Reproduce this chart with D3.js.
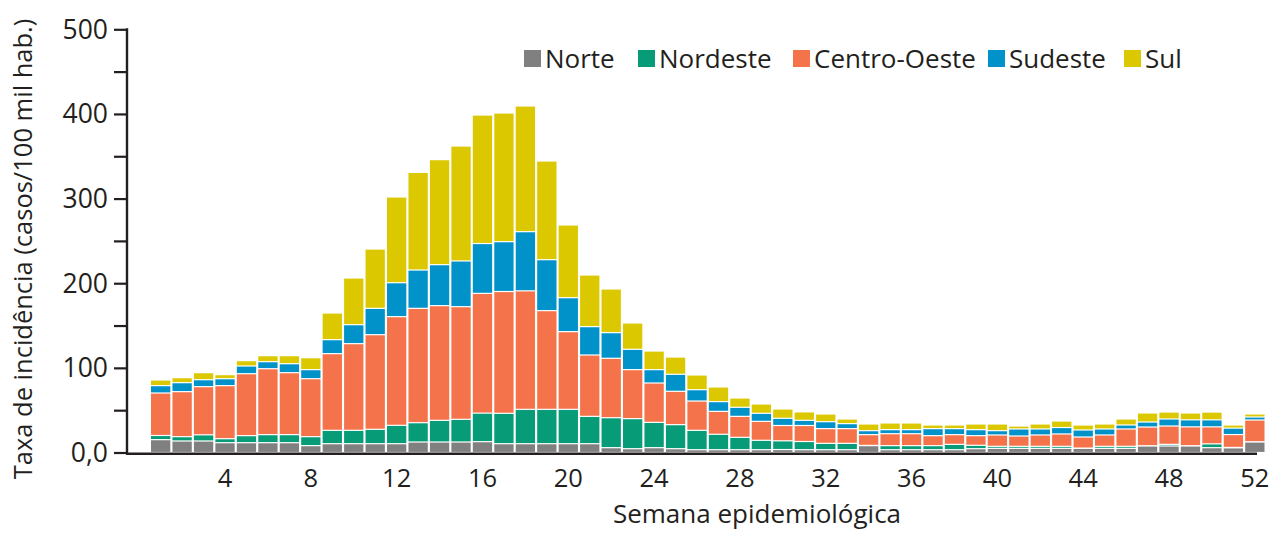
<!DOCTYPE html>
<html>
<head>
<meta charset="utf-8">
<script src="https://cdn.jsdelivr.net/npm/d3@7"></script>
<style>
  body { margin: 0; background: #fff; }
  text { font-family: "Open Sans", "Noto Sans", sans-serif; fill: #231f20; }
</style>
</head>
<body>
<div id="chart"></div>
<script>
'use strict';

// weekly incidence by region (cases / 100k inhabitants)
var weeks = d3.range(1, 53);
var regions = ['Norte', 'Nordeste', 'Centro-Oeste', 'Sudeste', 'Sul'];

var norte = [15.2, 13.6, 13.6, 11.6, 11.6, 11.6, 11.6, 8.1, 10.4, 10.4,
             10.4, 10.4, 12.4, 12.4, 12.4, 12.8, 10.4, 10.4, 10.4, 10.4,
             10.4, 5.7, 4.5, 5.7, 4.5, 3.3, 3.3, 3.3, 3.3, 3.5,
             3.3, 3.3, 3.3, 8.1, 3.3, 3.3, 3.3, 3.3, 4.5, 4.9,
             4.9, 4.9, 4.9, 4.9, 4.9, 4.9, 7.7, 7.7, 7.7, 5.7,
             5.5, 12.4];
var nordeste = [4.9, 5.1, 7.3, 4.7, 8.3, 9.5, 9.5, 10.6, 15.8, 15.8,
                17.0, 21.7, 22.8, 25.6, 26.8, 33.7, 35.9, 40.6, 40.6, 40.6,
                32.3, 35.4, 35.5, 29.9, 28.4, 22.9, 18.2, 14.6, 11.1, 10.3,
                9.7, 7.5, 7.5, 0.3, 4.8, 4.8, 4.8, 6.3, 4.0, 2.4,
                2.4, 2.4, 2.4, 0.3, 2.4, 2.4, 0.3, 1.9, 0.3, 4.5,
                0.5, 0.3];
var centroOeste = [50.2, 53.2, 56.9, 62.7, 73.2, 77.9, 73.2, 68.5, 90.6, 102.4,
                   111.8, 128.4, 135.1, 135.5, 133.1, 141.5, 143.9, 140.0, 116.6, 91.8,
                   72.5, 70.2, 57.9, 46.5, 39.4, 34.6, 27.1, 24.8, 22.4, 18.1,
                   18.9, 17.4, 17.4, 12.7, 14.1, 14.1, 11.8, 11.5, 11.4, 13.4,
                   12.2, 13.4, 14.6, 13.1, 13.4, 20.5, 22.1, 21.7, 22.3, 20.1,
                   15.2, 25.7];
var sudeste = [8.7, 10.6, 8.2, 8.2, 9.1, 8.3, 10.6, 10.7, 16.5, 22.4,
               31.1, 40.1, 45.3, 48.4, 54.0, 58.9, 58.9, 69.9, 60.2, 40.1,
               33.5, 30.3, 24.0, 15.8, 20.1, 13.4, 11.5, 10.7, 9.5, 8.5,
               6.1, 8.2, 5.9, 4.7, 4.8, 4.8, 8.3, 7.1, 7.1, 5.1,
               8.3, 7.1, 7.6, 8.3, 7.1, 4.7, 5.9, 8.3, 8.3, 8.3,
               7.6, 3.5];
var sul = [6.7, 5.9, 8.3, 4.8, 6.3, 7.1, 9.5, 14.1, 31.5, 55.2,
           70.1, 101.3, 115.4, 124.1, 135.8, 151.8, 152.0, 148.5, 116.6, 85.9,
           61.0, 51.6, 31.1, 22.0, 20.4, 17.4, 17.3, 11.0, 11.0, 11.0,
           10.0, 9.1, 5.5, 7.9, 7.9, 7.9, 4.3, 4.3, 6.7, 7.9,
           3.5, 5.9, 7.7, 5.9, 5.9, 7.1, 10.7, 8.2, 8.1, 9.2,
           3.7, 3.6];

var yTicks = [0, 50, 100, 150, 200, 250, 300, 350, 400, 450, 500];
var xTicks = [4, 8, 12, 16, 20, 24, 28, 32, 36, 40, 44, 48, 52];

var colours = ['#808080', '#079b77', '#f5734a', '#0092c9', '#dbc800'];
var legendX = [524, 638, 793, 988, 1124];

function makeChart() {
  var width = 1269;
  var height = 533;
  var axisColour = '#231f20';

  var rows = weeks.map(function(w, i) {
    return {
      week: w,
      'Norte': norte[i],
      'Nordeste': nordeste[i],
      'Centro-Oeste': centroOeste[i],
      'Sudeste': sudeste[i],
      'Sul': sul[i]
    };
  });

  var svg = d3.select('#chart')
              .append('svg')
              .attr('width', width)
              .attr('height', height);

  var x = d3.scaleBand()
            .domain(weeks)
            .range([151, 1264.5])
            .paddingInner(0.1);

  var y = d3.scaleLinear()
            .domain([0, 500])
            .range([452.5, 29.3]);

  var colour = d3.scaleOrdinal()
                 .domain(regions)
                 .range(colours);

  var series = d3.stack().keys(regions)(rows);

  // stacked bars, thin white gap between segments
  svg.append('g')
     .selectAll('g')
     .data(series)
     .enter()
     .append('g')
     .attr('fill', function(d) { return colour(d.key); })
     .selectAll('rect')
     .data(function(d) { return d; })
     .enter()
     .append('rect')
     .attr('x', function(d) { return x(d.data.week); })
     .attr('width', x.bandwidth())
     .attr('y', function(d) { return y(d[1]) + 0.6; })
     .attr('height', function(d) { return Math.max(0, y(d[0]) - y(d[1]) - 1.2); });

  // y axis
  var yAxis = d3.axisLeft(y)
                .tickValues(yTicks)
                .tickSize(13)
                .tickPadding(6)
                .tickFormat(function(d) {
                  if (d === 0) return '0,0';
                  return d % 100 === 0 ? d : '';
                });

  var gy = svg.append('g')
              .attr('transform', 'translate(127,0)')
              .call(yAxis);
  gy.select('.domain').remove();
  gy.selectAll('line').attr('stroke', axisColour).attr('stroke-width', 2.2);
  gy.selectAll('text')
    .style('font-size', '26.5px')
    .attr('fill', axisColour)
    .attr('dy', '0.34em');
  gy.append('line')
    .attr('x1', 0).attr('x2', 0)
    .attr('y1', y(500) - 1).attr('y2', y(0) + 2)
    .attr('stroke', axisColour)
    .attr('stroke-width', 2.4);

  // x axis
  svg.append('line')
     .attr('x1', 126)
     .attr('x2', 1257)
     .attr('y1', y(0) + 1.3)
     .attr('y2', y(0) + 1.3)
     .attr('stroke', axisColour)
     .attr('stroke-width', 2.6);

  svg.append('g')
     .selectAll('text')
     .data(xTicks)
     .enter()
     .append('text')
     .attr('x', function(d) { return x(d) + x.bandwidth() / 2; })
     .attr('y', 487)
     .attr('text-anchor', 'middle')
     .style('font-size', '25.5px')
     .text(function(d) { return d; });

  svg.append('text')
     .attr('x', 757)
     .attr('y', 523)
     .attr('text-anchor', 'middle')
     .style('font-size', '26px')
     .text('Semana epidemiológica');

  svg.append('text')
     .attr('transform', 'translate(32,249) rotate(-90)')
     .attr('text-anchor', 'middle')
     .style('font-size', '25.5px')
     .text('Taxa de incidência (casos/100 mil hab.)');

  // legend
  var legend = svg.append('g')
                  .selectAll('g')
                  .data(regions)
                  .enter()
                  .append('g')
                  .attr('transform', function(d, i) { return 'translate(' + legendX[i] + ',50)'; });

  legend.append('rect')
        .attr('width', 17)
        .attr('height', 17)
        .attr('fill', function(d) { return colour(d); });

  legend.append('text')
        .attr('x', 21)
        .attr('y', 17.5)
        .style('font-size', '26px')
        .text(function(d) { return d; });
}

makeChart();
</script>
</body>
</html>
